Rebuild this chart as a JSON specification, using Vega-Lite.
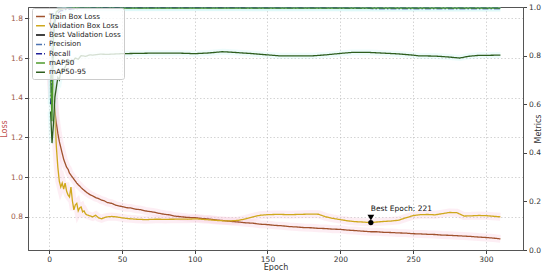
{
  "$schema": "https://vega.github.io/schema/vega-lite/v6.json",
  "width": 495,
  "height": 243,
  "autosize": {"type": "none"},
  "padding": {"left": 28, "top": 7, "right": 27, "bottom": 21},
  "background": "white",
  "config": {
    "font": "DejaVu Sans",
    "view": {"stroke": "#555", "strokeWidth": 1},
    "axis": {"labelFontSize": 7.5, "titleFontSize": 8, "labelColor": "#333", "titleColor": "#333", "tickSize": 3.5, "tickColor": "#444", "domainColor": "#555", "titleFontWeight": "normal", "gridColor": "#b8b8b8", "gridDash": [1.5, 2], "gridOpacity": 0.6},
    "legend": {"labelFontSize": 7.2, "labelColor": "#222", "symbolSize": 80, "rowPadding": 0.3, "padding": 3, "labelOffset": 3, "fillColor": "rgba(255,255,255,0.8)", "strokeColor": "#cccccc", "cornerRadius": 2, "symbolStrokeWidth": 1.5, "symbolType": "stroke"}
  },
  "datasets": {
    "loss": [
      {"epoch": 1, "Train Box Loss": 1.80, "Validation Box Loss": 1.52},
      {"epoch": 2, "Train Box Loss": 1.55, "Validation Box Loss": 1.40},
      {"epoch": 3, "Train Box Loss": 1.42, "Validation Box Loss": 1.47},
      {"epoch": 4, "Train Box Loss": 1.33, "Validation Box Loss": 1.30},
      {"epoch": 5, "Train Box Loss": 1.27, "Validation Box Loss": 1.15},
      {"epoch": 6, "Train Box Loss": 1.22, "Validation Box Loss": 1.05},
      {"epoch": 7, "Train Box Loss": 1.18, "Validation Box Loss": 0.98},
      {"epoch": 8, "Train Box Loss": 1.15, "Validation Box Loss": 0.95},
      {"epoch": 9, "Train Box Loss": 1.12, "Validation Box Loss": 0.97},
      {"epoch": 10, "Train Box Loss": 1.09, "Validation Box Loss": 0.94},
      {"epoch": 11, "Train Box Loss": 1.07, "Validation Box Loss": 0.97},
      {"epoch": 12, "Train Box Loss": 1.05, "Validation Box Loss": 0.93},
      {"epoch": 13, "Train Box Loss": 1.04, "Validation Box Loss": 0.91},
      {"epoch": 14, "Train Box Loss": 1.02, "Validation Box Loss": 0.90},
      {"epoch": 15, "Train Box Loss": 1.01, "Validation Box Loss": 0.95},
      {"epoch": 16, "Train Box Loss": 1.00, "Validation Box Loss": 0.88},
      {"epoch": 17, "Train Box Loss": 0.99, "Validation Box Loss": 0.835},
      {"epoch": 18, "Train Box Loss": 0.98, "Validation Box Loss": 0.86},
      {"epoch": 19, "Train Box Loss": 0.97, "Validation Box Loss": 0.868},
      {"epoch": 20, "Train Box Loss": 0.962, "Validation Box Loss": 0.83},
      {"epoch": 21, "Train Box Loss": 0.955, "Validation Box Loss": 0.845},
      {"epoch": 22, "Train Box Loss": 0.947, "Validation Box Loss": 0.85},
      {"epoch": 23, "Train Box Loss": 0.94, "Validation Box Loss": 0.825},
      {"epoch": 24, "Train Box Loss": 0.934, "Validation Box Loss": 0.83},
      {"epoch": 25, "Train Box Loss": 0.928, "Validation Box Loss": 0.815},
      {"epoch": 26, "Train Box Loss": 0.922, "Validation Box Loss": 0.81},
      {"epoch": 28, "Train Box Loss": 0.912, "Validation Box Loss": 0.805},
      {"epoch": 30, "Train Box Loss": 0.905, "Validation Box Loss": 0.80},
      {"epoch": 32, "Train Box Loss": 0.897, "Validation Box Loss": 0.808},
      {"epoch": 34, "Train Box Loss": 0.892, "Validation Box Loss": 0.795},
      {"epoch": 36, "Train Box Loss": 0.884, "Validation Box Loss": 0.79},
      {"epoch": 38, "Train Box Loss": 0.88, "Validation Box Loss": 0.796},
      {"epoch": 40, "Train Box Loss": 0.872, "Validation Box Loss": 0.80},
      {"epoch": 43, "Train Box Loss": 0.868, "Validation Box Loss": 0.802},
      {"epoch": 46, "Train Box Loss": 0.858, "Validation Box Loss": 0.80},
      {"epoch": 50, "Train Box Loss": 0.852, "Validation Box Loss": 0.795},
      {"epoch": 53, "Train Box Loss": 0.846, "Validation Box Loss": 0.792},
      {"epoch": 56, "Train Box Loss": 0.845, "Validation Box Loss": 0.79},
      {"epoch": 60, "Train Box Loss": 0.838, "Validation Box Loss": 0.788},
      {"epoch": 63, "Train Box Loss": 0.836, "Validation Box Loss": 0.787},
      {"epoch": 66, "Train Box Loss": 0.83, "Validation Box Loss": 0.786},
      {"epoch": 70, "Train Box Loss": 0.826, "Validation Box Loss": 0.787},
      {"epoch": 73, "Train Box Loss": 0.822, "Validation Box Loss": 0.788},
      {"epoch": 76, "Train Box Loss": 0.817, "Validation Box Loss": 0.788},
      {"epoch": 80, "Train Box Loss": 0.812, "Validation Box Loss": 0.787},
      {"epoch": 83, "Train Box Loss": 0.81, "Validation Box Loss": 0.788},
      {"epoch": 86, "Train Box Loss": 0.804, "Validation Box Loss": 0.788},
      {"epoch": 90, "Train Box Loss": 0.801, "Validation Box Loss": 0.789},
      {"epoch": 95, "Train Box Loss": 0.797, "Validation Box Loss": 0.788},
      {"epoch": 100, "Train Box Loss": 0.796, "Validation Box Loss": 0.79},
      {"epoch": 103, "Train Box Loss": 0.793, "Validation Box Loss": 0.789},
      {"epoch": 106, "Train Box Loss": 0.791, "Validation Box Loss": 0.787},
      {"epoch": 110, "Train Box Loss": 0.789, "Validation Box Loss": 0.785},
      {"epoch": 115, "Train Box Loss": 0.784, "Validation Box Loss": 0.782},
      {"epoch": 120, "Train Box Loss": 0.781, "Validation Box Loss": 0.78},
      {"epoch": 125, "Train Box Loss": 0.777, "Validation Box Loss": 0.78},
      {"epoch": 130, "Train Box Loss": 0.774, "Validation Box Loss": 0.782},
      {"epoch": 135, "Train Box Loss": 0.77, "Validation Box Loss": 0.79},
      {"epoch": 140, "Train Box Loss": 0.768, "Validation Box Loss": 0.80},
      {"epoch": 145, "Train Box Loss": 0.763, "Validation Box Loss": 0.808},
      {"epoch": 150, "Train Box Loss": 0.761, "Validation Box Loss": 0.811},
      {"epoch": 155, "Train Box Loss": 0.757, "Validation Box Loss": 0.812},
      {"epoch": 160, "Train Box Loss": 0.755, "Validation Box Loss": 0.812},
      {"epoch": 165, "Train Box Loss": 0.751, "Validation Box Loss": 0.811},
      {"epoch": 170, "Train Box Loss": 0.749, "Validation Box Loss": 0.812},
      {"epoch": 175, "Train Box Loss": 0.746, "Validation Box Loss": 0.813},
      {"epoch": 180, "Train Box Loss": 0.745, "Validation Box Loss": 0.814},
      {"epoch": 185, "Train Box Loss": 0.742, "Validation Box Loss": 0.813},
      {"epoch": 190, "Train Box Loss": 0.741, "Validation Box Loss": 0.80},
      {"epoch": 195, "Train Box Loss": 0.738, "Validation Box Loss": 0.792},
      {"epoch": 200, "Train Box Loss": 0.737, "Validation Box Loss": 0.786},
      {"epoch": 205, "Train Box Loss": 0.733, "Validation Box Loss": 0.78},
      {"epoch": 210, "Train Box Loss": 0.731, "Validation Box Loss": 0.776},
      {"epoch": 215, "Train Box Loss": 0.728, "Validation Box Loss": 0.774},
      {"epoch": 221, "Train Box Loss": 0.725, "Validation Box Loss": 0.771},
      {"epoch": 225, "Train Box Loss": 0.725, "Validation Box Loss": 0.774},
      {"epoch": 230, "Train Box Loss": 0.722, "Validation Box Loss": 0.777},
      {"epoch": 235, "Train Box Loss": 0.721, "Validation Box Loss": 0.779},
      {"epoch": 240, "Train Box Loss": 0.719, "Validation Box Loss": 0.783},
      {"epoch": 245, "Train Box Loss": 0.718, "Validation Box Loss": 0.795},
      {"epoch": 250, "Train Box Loss": 0.715, "Validation Box Loss": 0.806},
      {"epoch": 255, "Train Box Loss": 0.714, "Validation Box Loss": 0.811},
      {"epoch": 260, "Train Box Loss": 0.712, "Validation Box Loss": 0.812},
      {"epoch": 265, "Train Box Loss": 0.711, "Validation Box Loss": 0.81},
      {"epoch": 270, "Train Box Loss": 0.708, "Validation Box Loss": 0.816},
      {"epoch": 275, "Train Box Loss": 0.707, "Validation Box Loss": 0.822},
      {"epoch": 280, "Train Box Loss": 0.705, "Validation Box Loss": 0.821},
      {"epoch": 285, "Train Box Loss": 0.703, "Validation Box Loss": 0.804},
      {"epoch": 290, "Train Box Loss": 0.701, "Validation Box Loss": 0.805},
      {"epoch": 295, "Train Box Loss": 0.698, "Validation Box Loss": 0.807},
      {"epoch": 300, "Train Box Loss": 0.696, "Validation Box Loss": 0.806},
      {"epoch": 305, "Train Box Loss": 0.693, "Validation Box Loss": 0.803},
      {"epoch": 310, "Train Box Loss": 0.689, "Validation Box Loss": 0.80}
    ],
    "metrics": [
      {"epoch": 1, "Precision": 0.78, "Recall": 0.60, "mAP50": 0.72, "mAP50-95": 0.57},
      {"epoch": 2, "Precision": 0.62, "Recall": 0.70, "mAP50": 0.53, "mAP50-95": 0.44},
      {"epoch": 3, "Precision": 0.92, "Recall": 0.88, "mAP50": 0.90, "mAP50-95": 0.52},
      {"epoch": 4, "Precision": 0.96, "Recall": 0.94, "mAP50": 0.96, "mAP50-95": 0.63},
      {"epoch": 5, "Precision": 0.98, "Recall": 0.96, "mAP50": 0.98, "mAP50-95": 0.67},
      {"epoch": 6, "Precision": 0.985, "Recall": 0.975, "mAP50": 0.985, "mAP50-95": 0.71},
      {"epoch": 7, "Precision": 0.99, "Recall": 0.98, "mAP50": 0.99, "mAP50-95": 0.70},
      {"epoch": 8, "Precision": 0.99, "Recall": 0.985, "mAP50": 0.99, "mAP50-95": 0.735},
      {"epoch": 9, "Precision": 0.992, "Recall": 0.985, "mAP50": 0.992, "mAP50-95": 0.745},
      {"epoch": 10, "Precision": 0.993, "Recall": 0.988, "mAP50": 0.993, "mAP50-95": 0.74},
      {"epoch": 12, "Precision": 0.994, "Recall": 0.99, "mAP50": 0.994, "mAP50-95": 0.765},
      {"epoch": 14, "Precision": 0.995, "Recall": 0.99, "mAP50": 0.994, "mAP50-95": 0.78},
      {"epoch": 16, "Precision": 0.995, "Recall": 0.992, "mAP50": 0.995, "mAP50-95": 0.775},
      {"epoch": 18, "Precision": 0.996, "Recall": 0.993, "mAP50": 0.995, "mAP50-95": 0.79},
      {"epoch": 20, "Precision": 0.996, "Recall": 0.994, "mAP50": 0.995, "mAP50-95": 0.785},
      {"epoch": 22, "Precision": 0.996, "Recall": 0.994, "mAP50": 0.995, "mAP50-95": 0.80},
      {"epoch": 25, "Precision": 0.997, "Recall": 0.995, "mAP50": 0.995, "mAP50-95": 0.797},
      {"epoch": 28, "Precision": 0.997, "Recall": 0.995, "mAP50": 0.995, "mAP50-95": 0.803},
      {"epoch": 30, "Precision": 0.997, "Recall": 0.995, "mAP50": 0.995, "mAP50-95": 0.802},
      {"epoch": 35, "Precision": 0.997, "Recall": 0.996, "mAP50": 0.995, "mAP50-95": 0.806},
      {"epoch": 40, "Precision": 0.997, "Recall": 0.996, "mAP50": 0.995, "mAP50-95": 0.805},
      {"epoch": 50, "Precision": 0.998, "Recall": 0.996, "mAP50": 0.995, "mAP50-95": 0.808},
      {"epoch": 60, "Precision": 0.998, "Recall": 0.996, "mAP50": 0.995, "mAP50-95": 0.809},
      {"epoch": 70, "Precision": 0.998, "Recall": 0.996, "mAP50": 0.995, "mAP50-95": 0.81},
      {"epoch": 80, "Precision": 0.998, "Recall": 0.996, "mAP50": 0.995, "mAP50-95": 0.81},
      {"epoch": 90, "Precision": 0.998, "Recall": 0.996, "mAP50": 0.995, "mAP50-95": 0.81},
      {"epoch": 100, "Precision": 0.998, "Recall": 0.996, "mAP50": 0.995, "mAP50-95": 0.808},
      {"epoch": 110, "Precision": 0.998, "Recall": 0.996, "mAP50": 0.995, "mAP50-95": 0.811},
      {"epoch": 119, "Precision": 0.998, "Recall": 0.996, "mAP50": 0.995, "mAP50-95": 0.816},
      {"epoch": 125, "Precision": 0.998, "Recall": 0.996, "mAP50": 0.995, "mAP50-95": 0.814},
      {"epoch": 130, "Precision": 0.998, "Recall": 0.996, "mAP50": 0.995, "mAP50-95": 0.812},
      {"epoch": 140, "Precision": 0.998, "Recall": 0.995, "mAP50": 0.995, "mAP50-95": 0.808},
      {"epoch": 150, "Precision": 0.998, "Recall": 0.995, "mAP50": 0.995, "mAP50-95": 0.803},
      {"epoch": 158, "Precision": 0.998, "Recall": 0.995, "mAP50": 0.995, "mAP50-95": 0.799},
      {"epoch": 170, "Precision": 0.998, "Recall": 0.995, "mAP50": 0.995, "mAP50-95": 0.799},
      {"epoch": 181, "Precision": 0.998, "Recall": 0.995, "mAP50": 0.995, "mAP50-95": 0.799},
      {"epoch": 190, "Precision": 0.998, "Recall": 0.995, "mAP50": 0.995, "mAP50-95": 0.803},
      {"epoch": 200, "Precision": 0.998, "Recall": 0.995, "mAP50": 0.995, "mAP50-95": 0.809},
      {"epoch": 208, "Precision": 0.998, "Recall": 0.994, "mAP50": 0.995, "mAP50-95": 0.813},
      {"epoch": 220, "Precision": 0.998, "Recall": 0.994, "mAP50": 0.995, "mAP50-95": 0.813},
      {"epoch": 230, "Precision": 0.998, "Recall": 0.993, "mAP50": 0.995, "mAP50-95": 0.81},
      {"epoch": 240, "Precision": 0.998, "Recall": 0.993, "mAP50": 0.995, "mAP50-95": 0.807},
      {"epoch": 250, "Precision": 0.998, "Recall": 0.993, "mAP50": 0.995, "mAP50-95": 0.802},
      {"epoch": 254, "Precision": 0.998, "Recall": 0.993, "mAP50": 0.995, "mAP50-95": 0.799},
      {"epoch": 265, "Precision": 0.998, "Recall": 0.993, "mAP50": 0.995, "mAP50-95": 0.798},
      {"epoch": 275, "Precision": 0.998, "Recall": 0.993, "mAP50": 0.995, "mAP50-95": 0.794},
      {"epoch": 282, "Precision": 0.998, "Recall": 0.993, "mAP50": 0.995, "mAP50-95": 0.79},
      {"epoch": 288, "Precision": 0.998, "Recall": 0.993, "mAP50": 0.995, "mAP50-95": 0.797},
      {"epoch": 295, "Precision": 0.998, "Recall": 0.993, "mAP50": 0.995, "mAP50-95": 0.801},
      {"epoch": 300, "Precision": 0.998, "Recall": 0.993, "mAP50": 0.995, "mAP50-95": 0.801},
      {"epoch": 310, "Precision": 0.998, "Recall": 0.993, "mAP50": 0.995, "mAP50-95": 0.802}
    ],
    "best": [
      {"epoch": 221, "value": 0.771, "series": "Best Validation Loss", "label": "Best Epoch: 221"}
    ]
  },
  "layer": [
    {
      "data": {"name": "loss"},
      "transform": [{"fold": ["Train Box Loss", "Validation Box Loss"], "as": ["series", "value"]}],
      "encoding": {
        "x": {"field": "epoch", "type": "quantitative", "scale": {"domain": [-14.5, 325.5], "nice": false, "zero": false}, "axis": {"title": "Epoch", "values": [0, 50, 100, 150, 200, 250, 300], "grid": true, "labelPadding": 2, "titlePadding": 0}},
        "y": {"field": "value", "type": "quantitative", "scale": {"domain": [0.633, 1.857], "nice": false, "zero": false}, "axis": {"title": "Loss", "orient": "left", "values": [0.8, 1.0, 1.2, 1.4, 1.6, 1.8], "format": ".1f", "grid": true, "labelColor": "#9c5a48", "titleColor": "#c0504d", "labelPadding": 2, "titlePadding": 2}}
      },
      "layer": [
        {"mark": {"type": "line", "color": "#f7c6dc", "strokeWidth": 8, "opacity": 0.3, "clip": true}, "encoding": {"detail": {"field": "series"}}},
        {"mark": {"type": "line", "strokeWidth": 1.3, "clip": true},
         "encoding": {
           "color": {"field": "series", "type": "nominal", "scale": {"domain": ["Train Box Loss", "Validation Box Loss", "Best Validation Loss", "Precision", "Recall", "mAP50", "mAP50-95"], "range": ["#a0522d", "#cfa81c", "#000000", "#4c72b0", "#1f1f99", "#4d9a2a", "#2e5e1e"]}, "legend": {"title": null, "orient": "none", "legendX": 4, "legendY": 1}},
           "strokeDash": {"field": "series", "type": "nominal", "scale": {"domain": ["Train Box Loss", "Validation Box Loss", "Best Validation Loss", "Precision", "Recall", "mAP50", "mAP50-95"], "range": [[1, 0], [1, 0], [1, 0], [6, 2, 1.5, 2], [6, 2, 1.5, 2], [1, 0], [1, 0]]}, "legend": {"title": null, "orient": "none", "legendX": 4, "legendY": 1}}
         }},
        {"data": {"name": "best"}, "mark": {"type": "point", "shape": "triangle-down", "filled": true, "color": "#000000", "size": 45, "yOffset": -5, "opacity": 1}, "encoding": {}},
        {"data": {"name": "best"}, "mark": {"type": "point", "shape": "circle", "filled": true, "color": "#000000", "size": 28, "opacity": 1}, "encoding": {}},
        {"data": {"name": "best"}, "mark": {"type": "text", "align": "left", "baseline": "middle", "dx": 0, "dy": -14, "fontSize": 7.5, "color": "#111"}, "encoding": {"text": {"field": "label"}}}
      ]
    },
    {
      "data": {"name": "metrics"},
      "transform": [{"fold": ["Precision", "Recall", "mAP50", "mAP50-95"], "as": ["series", "value"]}],
      "encoding": {
        "x": {"field": "epoch", "type": "quantitative", "scale": {"domain": [-14.5, 325.5], "nice": false, "zero": false}, "axis": {"title": "Epoch", "values": [0, 50, 100, 150, 200, 250, 300], "grid": true, "labelPadding": 2, "titlePadding": 0}},
        "y": {"field": "value", "type": "quantitative", "scale": {"domain": [0, 1], "nice": false}, "axis": {"title": "Metrics", "orient": "right", "values": [0, 0.2, 0.4, 0.6, 0.8, 1.0], "format": ".1f", "grid": false, "labelPadding": 2, "titlePadding": 2, "titleAngle": 270, "titleBaseline": "bottom"}}
      },
      "layer": [
        {"mark": {"type": "line", "color": "#c8f4f4", "strokeWidth": 6, "opacity": 0.3, "clip": true}, "encoding": {"detail": {"field": "series"}}},
        {"mark": {"type": "line", "strokeWidth": 1.3, "clip": true},
         "encoding": {
           "color": {"field": "series", "type": "nominal", "scale": {"domain": ["Train Box Loss", "Validation Box Loss", "Best Validation Loss", "Precision", "Recall", "mAP50", "mAP50-95"], "range": ["#a0522d", "#cfa81c", "#000000", "#4c72b0", "#1f1f99", "#4d9a2a", "#2e5e1e"]}, "legend": {"title": null, "orient": "none", "legendX": 4, "legendY": 1}},
           "strokeDash": {"field": "series", "type": "nominal", "scale": {"domain": ["Train Box Loss", "Validation Box Loss", "Best Validation Loss", "Precision", "Recall", "mAP50", "mAP50-95"], "range": [[1, 0], [1, 0], [1, 0], [6, 2, 1.5, 2], [6, 2, 1.5, 2], [1, 0], [1, 0]]}, "legend": {"title": null, "orient": "none", "legendX": 4, "legendY": 1}}
         }}
      ]
    }
  ],
  "resolve": {"scale": {"y": "independent"}}
}
